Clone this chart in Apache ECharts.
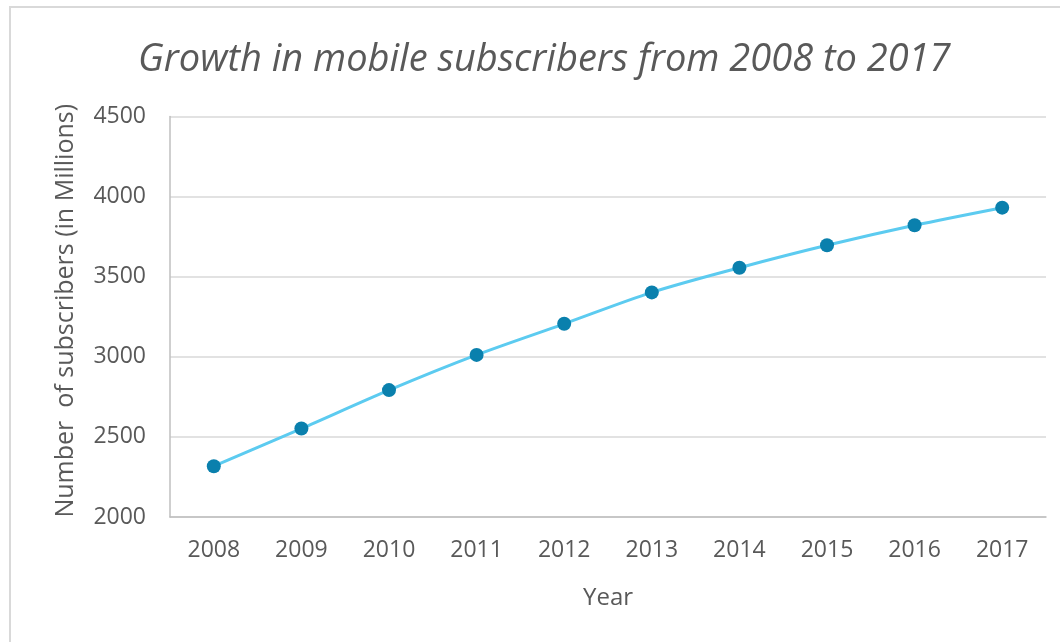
<!DOCTYPE html>
<html>
<head>
<meta charset="utf-8">
<title>Growth in mobile subscribers from 2008 to 2017</title>
<script src="https://cdn.jsdelivr.net/npm/echarts@6/dist/echarts.min.js"></script>
<style>
  html, body { margin: 0; padding: 0; background: #ffffff; }
  #chart { width: 1060px; height: 642px; }
</style>
</head>
<body>
<div id="chart"></div>
<script>
// Chart data
const years = ['2008', '2009', '2010', '2011', '2012', '2013', '2014', '2015', '2016', '2017'];
const subscribers = [2317, 2552, 2792, 3012, 3206, 3402, 3556, 3696, 3821, 3931];

const titleText = 'Growth in mobile subscribers from 2008 to 2017';
const xAxisName = 'Year';
const yAxisName = 'Number  of subscribers (in Millions)';

const textColor = '#595959';
const fontFamily = '"Open Sans", "Noto Sans", sans-serif';

const chart = echarts.init(document.getElementById('chart'), null, { renderer: 'canvas' });

chart.setOption({
  backgroundColor: '#ffffff',
  animation: false,
  title: {
    text: titleText,
    left: 133,
    top: 36,
    textStyle: {
      fontFamily: fontFamily,
      fontStyle: 'italic',
      fontWeight: 'normal',
      fontSize: 38,
      color: textColor
    }
  },
  graphic: [
    {
      type: 'polyline',
      shape: { points: [[10, 642], [10, 7], [1060, 7]] },
      style: { stroke: '#d9d9d9', lineWidth: 2, fill: null },
      silent: true
    }
  ],
  grid: {
    left: 170,
    right: 14,
    top: 116.5,
    bottom: 125
  },
  xAxis: {
    type: 'category',
    data: years,
    boundaryGap: true,
    name: xAxisName,
    nameLocation: 'middle',
    nameGap: 69,
    nameTextStyle: { fontFamily: fontFamily, fontSize: 24, color: textColor },
    axisLine: { show: true, lineStyle: { color: '#bfbfbf', width: 1.5 } },
    axisTick: { show: false },
    axisLabel: { margin: 22, fontFamily: fontFamily, fontSize: 23, color: textColor },
    splitLine: { show: false }
  },
  yAxis: {
    type: 'value',
    min: 2000,
    max: 4500,
    interval: 500,
    name: yAxisName,
    nameLocation: 'middle',
    nameGap: 92,
    nameRotate: 90,
    nameTextStyle: { fontFamily: fontFamily, fontSize: 25, color: textColor, padding: [0, 0, 0, 12] },
    axisLine: { show: true, lineStyle: { color: '#bfbfbf', width: 1.5 } },
    axisTick: { show: false },
    axisLabel: {
      margin: 24,
      fontFamily: fontFamily,
      fontSize: 23,
      color: textColor,
      formatter: function (v) { return String(v); }
    },
    splitLine: { show: true, lineStyle: { color: '#d9d9d9', width: 1.5 } }
  },
  series: [
    {
      type: 'line',
      data: subscribers,
      smooth: 0.3,
      symbol: 'circle',
      symbolSize: 14,
      lineStyle: { color: '#5ccbf0', width: 3 },
      itemStyle: { color: '#0a80ad' }
    }
  ]
});
</script>
</body>
</html>
